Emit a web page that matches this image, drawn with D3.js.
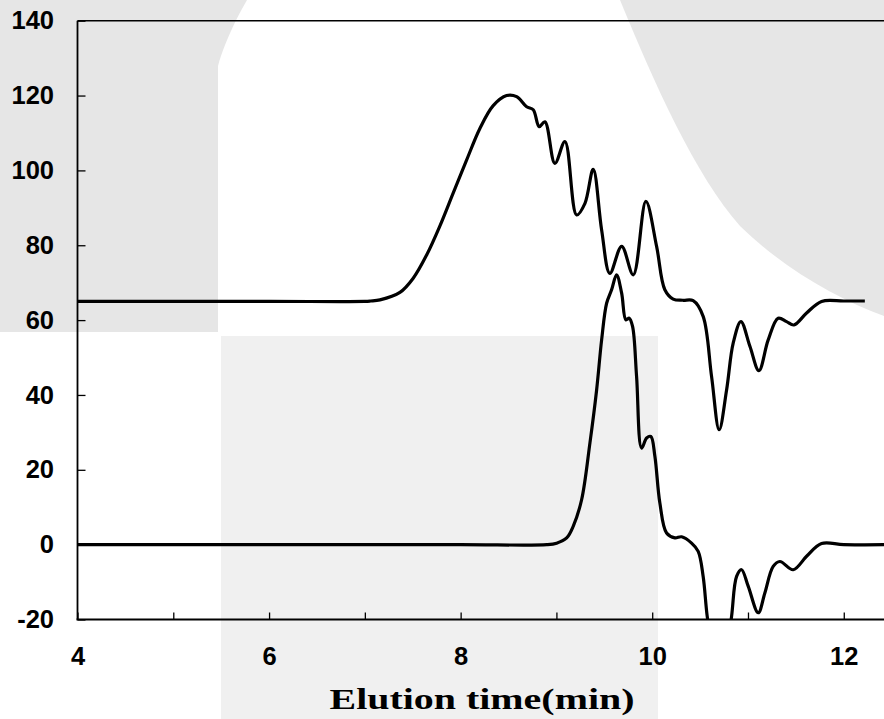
<!DOCTYPE html>
<html>
<head>
<meta charset="utf-8">
<script src="https://cdn.jsdelivr.net/npm/d3@7"></script>
<style>
  html, body { margin: 0; padding: 0; background: #fff; }
  svg { display: block; }
</style>
</head>
<body>
<div id="chart"></div>
<script>
// ---- data ----
const xTickValues = [4, 5, 6, 7, 8, 9, 10, 11, 12];
const xTickLabels = ["4", "", "6", "", "8", "", "10", "", "12"];
const yTickValues = [-20, 0, 20, 40, 60, 80, 100, 120, 140];
const yTickLabels = ["-20", "0", "20", "40", "60", "80", "100", "120", "140"];
const xLabel = "Elution time(min)";

// upper trace (offset baseline 65)
const upperTime = [4.0, 6.0, 7.0, 7.06, 7.158, 7.366, 7.505, 7.645, 7.784, 7.923, 8.063, 8.201, 8.34, 8.48, 8.585,
  8.689, 8.758, 8.82, 8.88, 8.984, 9.089, 9.211, 9.298, 9.384, 9.472, 9.558, 9.681, 9.802, 9.934,
  10.046, 10.132, 10.219, 10.32, 10.428, 10.532, 10.62, 10.699, 10.777, 10.846, 10.926, 11.02, 11.114,
  11.211, 11.315, 11.403, 11.479, 11.612, 11.768, 12.0, 12.22];
const upperSignal = [65, 65, 65, 65.1, 65.4, 67.4, 71.2, 77.4, 85.2, 94.0, 102.8, 111.2, 117.3, 120.0, 119.7,
  117.0, 116.2, 111.7, 113.0, 101.9, 107.7, 88.1, 91.2, 100.3, 84.1, 72.5, 79.7, 72.1, 91.7,
  79.7, 68.1, 65.6, 65.3, 65.2, 61.0, 44.9, 30.7, 41.4, 53.9, 59.6, 53.0, 46.5,
  54.7, 60.5, 59.6, 58.7, 61.9, 65.0, 65.1, 65.1];

// lower trace (baseline 0)
const lowerTime = [4.0, 6.0, 8.0, 8.9, 9.002, 9.107, 9.175, 9.263, 9.35, 9.42, 9.472, 9.524, 9.576, 9.628,
  9.681, 9.725, 9.76, 9.795, 9.837, 9.889, 9.942, 9.986, 10.028, 10.08, 10.15, 10.237, 10.307,
  10.411, 10.48, 10.532, 10.574, 10.64, 10.7, 10.77, 10.829, 10.881, 10.933, 11.002, 11.107,
  11.176, 11.263, 11.333, 11.472, 11.612, 11.768, 12.0, 12.42];
const lowerSignal = [0, 0, 0, 0, 0.4, 1.8, 4.9, 12.0, 27.2, 41.4, 54.7, 64.5, 68.1, 72.1,
  67.2, 60.1, 60.5, 58.3, 44.9, 25.8, 28.5, 28.9, 23.6, 11.1, 3.1, 1.8, 2.1,
  0.4, -1.8, -8.5, -19.1, -30, -36, -30, -19.1, -8.5, -6.7, -11.1, -18.2,
  -12.9, -5.8, -4.5, -6.7, -3.1, 0.3, 0, 0];

// ---- drawing ----
const W = 884, H = 719;
const svg = d3.select("#chart").append("svg").attr("width", W).attr("height", H);

const x = d3.scaleLinear().domain([4, 12.42]).range([77.5, 884]);
const y = d3.scaleLinear().domain([-20, 140]).range([619.5, 20.7]);

// background decorations
const bg = svg.append("g");
bg.append("path")
  .attr("d", "M0,0 L247,0 C240,12 226,38 218,66 L218,332 L0,332 Z")
  .attr("fill", "#e6e6e6");
bg.append("path")
  .attr("d", "M620,0 C655,85 695,175 740,226 C785,270 840,300 884,316 L884,0 Z")
  .attr("fill", "#e6e6e6");
bg.append("rect")
  .attr("x", 221).attr("y", 336).attr("width", 437).attr("height", H - 336)
  .attr("fill", "#f0f0f0");

// clip
svg.append("defs").append("clipPath").attr("id", "plotclip")
  .append("rect")
  .attr("x", x(4)).attr("y", y(140))
  .attr("width", x(12.42) - x(4)).attr("height", y(-20) - y(140));

const fontSans = "'Liberation Sans', Arial, sans-serif";

// x axis
const xAxis = d3.axisBottom(x)
  .tickValues(xTickValues)
  .tickFormat((d, i) => xTickLabels[i])
  .tickSizeInner(-7).tickSizeOuter(0).tickPadding(27);
const gx = svg.append("g").attr("transform", `translate(0,${y(-20)})`).call(xAxis);
gx.select(".domain").remove();
gx.selectAll(".tick line").attr("stroke", "#000").attr("stroke-width", 1.3);
gx.selectAll(".tick text")
  .attr("font-family", fontSans).attr("font-weight", "bold")
  .attr("font-size", 25.5).attr("fill", "#000");

// y axis
const yAxis = d3.axisLeft(y)
  .tickValues(yTickValues)
  .tickFormat((d, i) => yTickLabels[i])
  .tickSizeInner(-8).tickSizeOuter(0).tickPadding(23.5);
const gy = svg.append("g").attr("transform", `translate(${x(4)},0)`).call(yAxis);
gy.select(".domain").remove();
gy.selectAll(".tick line").attr("stroke", "#000").attr("stroke-width", 1.3);
gy.selectAll(".tick text")
  .attr("font-family", fontSans).attr("font-weight", "bold")
  .attr("font-size", 25.5).attr("fill", "#000");

// frame lines
svg.append("line").attr("x1", x(4)).attr("x2", x(4)).attr("y1", y(140)).attr("y2", y(-20))
  .attr("stroke", "#000").attr("stroke-width", 1.8);
svg.append("line").attr("x1", x(4)).attr("x2", W).attr("y1", y(140)).attr("y2", y(140))
  .attr("stroke", "#000").attr("stroke-width", 1.5);
svg.append("line").attr("x1", x(4) - 1).attr("x2", W).attr("y1", y(-20)).attr("y2", y(-20))
  .attr("stroke", "#000").attr("stroke-width", 2.2);

// traces
const line = d3.line().x(d => x(d[0])).y(d => y(d[1])).curve(d3.curveCatmullRom.alpha(0.5));
const plot = svg.append("g").attr("clip-path", "url(#plotclip)");
plot.append("path")
  .attr("d", line(upperTime.map((t, i) => [t, upperSignal[i]])))
  .attr("fill", "none").attr("stroke", "#000").attr("stroke-width", 3.2)
  .attr("stroke-linejoin", "round");
plot.append("path")
  .attr("d", line(lowerTime.map((t, i) => [t, lowerSignal[i]])))
  .attr("fill", "none").attr("stroke", "#000").attr("stroke-width", 3.2)
  .attr("stroke-linejoin", "round");

// x label
svg.append("text")
  .attr("x", 482).attr("y", 709)
  .attr("text-anchor", "middle")
  .attr("font-family", "'Liberation Serif', 'Times New Roman', serif")
  .attr("font-weight", "bold")
  .attr("font-size", 30)
  .attr("textLength", 305)
  .attr("lengthAdjust", "spacingAndGlyphs")
  .attr("fill", "#000")
  .text(xLabel);
</script>
</body>
</html>
